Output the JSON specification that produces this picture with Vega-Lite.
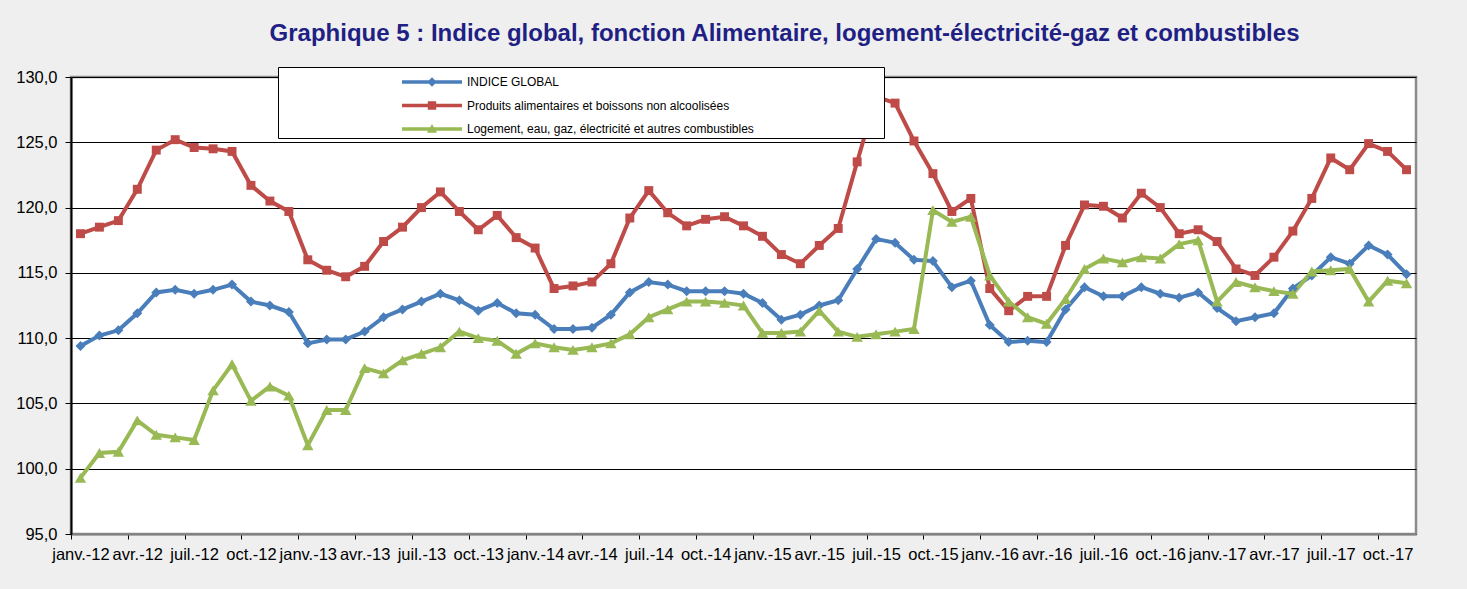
{
  "$schema": "https://vega.github.io/schema/vega-lite/v6.json",
  "width": 1345,
  "height": 457,
  "autosize": "none",
  "padding": {"left": 71, "top": 77, "right": 51, "bottom": 55},
  "title": {
    "text": "Graphique 5 : Indice global, fonction Alimentaire, logement-électricité-gaz et combustibles",
    "font": "Liberation Sans", "fontSize": 24, "fontWeight": "bold", "color": "#1f1f84",
    "anchor": "middle", "frame": "group", "offset": 2, "baseline": "alphabetic", "dx": 41
  },
  "data": {"values": [
    {"m":"janv.-12","s":"G","v":109.4},{"m":"févr.-12","s":"G","v":110.2},{"m":"mars-12","s":"G","v":110.6},{"m":"avr.-12","s":"G","v":111.9},{"m":"mai-12","s":"G","v":113.5},{"m":"juin-12","s":"G","v":113.7},{"m":"juil.-12","s":"G","v":113.4},{"m":"août-12","s":"G","v":113.7},{"m":"sept.-12","s":"G","v":114.1},{"m":"oct.-12","s":"G","v":112.8},{"m":"nov.-12","s":"G","v":112.5},{"m":"déc.-12","s":"G","v":112.0},
    {"m":"janv.-13","s":"G","v":109.6},{"m":"févr.-13","s":"G","v":109.9},{"m":"mars-13","s":"G","v":109.9},{"m":"avr.-13","s":"G","v":110.5},{"m":"mai-13","s":"G","v":111.6},{"m":"juin-13","s":"G","v":112.2},{"m":"juil.-13","s":"G","v":112.8},{"m":"août-13","s":"G","v":113.4},{"m":"sept.-13","s":"G","v":112.9},{"m":"oct.-13","s":"G","v":112.1},{"m":"nov.-13","s":"G","v":112.7},{"m":"déc.-13","s":"G","v":111.9},
    {"m":"janv.-14","s":"G","v":111.8},{"m":"févr.-14","s":"G","v":110.7},{"m":"mars-14","s":"G","v":110.7},{"m":"avr.-14","s":"G","v":110.8},{"m":"mai-14","s":"G","v":111.8},{"m":"juin-14","s":"G","v":113.5},{"m":"juil.-14","s":"G","v":114.3},{"m":"août-14","s":"G","v":114.1},{"m":"sept.-14","s":"G","v":113.6},{"m":"oct.-14","s":"G","v":113.6},{"m":"nov.-14","s":"G","v":113.6},{"m":"déc.-14","s":"G","v":113.4},
    {"m":"janv.-15","s":"G","v":112.7},{"m":"févr.-15","s":"G","v":111.4},{"m":"mars-15","s":"G","v":111.8},{"m":"avr.-15","s":"G","v":112.5},{"m":"mai-15","s":"G","v":112.9},{"m":"juin-15","s":"G","v":115.3},{"m":"juil.-15","s":"G","v":117.6},{"m":"août-15","s":"G","v":117.3},{"m":"sept.-15","s":"G","v":116.0},{"m":"oct.-15","s":"G","v":115.9},{"m":"nov.-15","s":"G","v":113.9},{"m":"déc.-15","s":"G","v":114.4},
    {"m":"janv.-16","s":"G","v":111.0},{"m":"févr.-16","s":"G","v":109.7},{"m":"mars-16","s":"G","v":109.8},{"m":"avr.-16","s":"G","v":109.7},{"m":"mai-16","s":"G","v":112.2},{"m":"juin-16","s":"G","v":113.9},{"m":"juil.-16","s":"G","v":113.2},{"m":"août-16","s":"G","v":113.2},{"m":"sept.-16","s":"G","v":113.9},{"m":"oct.-16","s":"G","v":113.4},{"m":"nov.-16","s":"G","v":113.1},{"m":"déc.-16","s":"G","v":113.5},
    {"m":"janv.-17","s":"G","v":112.3},{"m":"févr.-17","s":"G","v":111.3},{"m":"mars-17","s":"G","v":111.6},{"m":"avr.-17","s":"G","v":111.9},{"m":"mai-17","s":"G","v":113.8},{"m":"juin-17","s":"G","v":114.8},{"m":"juil.-17","s":"G","v":116.2},{"m":"août-17","s":"G","v":115.7},{"m":"sept.-17","s":"G","v":117.1},{"m":"oct.-17","s":"G","v":116.4},{"m":"nov.-17","s":"G","v":114.9},
    {"m":"janv.-12","s":"A","v":118.0},{"m":"févr.-12","s":"A","v":118.5},{"m":"mars-12","s":"A","v":119.0},{"m":"avr.-12","s":"A","v":121.4},{"m":"mai-12","s":"A","v":124.4},{"m":"juin-12","s":"A","v":125.2},{"m":"juil.-12","s":"A","v":124.6},{"m":"août-12","s":"A","v":124.5},{"m":"sept.-12","s":"A","v":124.3},{"m":"oct.-12","s":"A","v":121.7},{"m":"nov.-12","s":"A","v":120.5},{"m":"déc.-12","s":"A","v":119.7},
    {"m":"janv.-13","s":"A","v":116.0},{"m":"févr.-13","s":"A","v":115.2},{"m":"mars-13","s":"A","v":114.7},{"m":"avr.-13","s":"A","v":115.5},{"m":"mai-13","s":"A","v":117.4},{"m":"juin-13","s":"A","v":118.5},{"m":"juil.-13","s":"A","v":120.0},{"m":"août-13","s":"A","v":121.2},{"m":"sept.-13","s":"A","v":119.7},{"m":"oct.-13","s":"A","v":118.3},{"m":"nov.-13","s":"A","v":119.4},{"m":"déc.-13","s":"A","v":117.7},
    {"m":"janv.-14","s":"A","v":116.9},{"m":"févr.-14","s":"A","v":113.8},{"m":"mars-14","s":"A","v":114.0},{"m":"avr.-14","s":"A","v":114.3},{"m":"mai-14","s":"A","v":115.7},{"m":"juin-14","s":"A","v":119.2},{"m":"juil.-14","s":"A","v":121.3},{"m":"août-14","s":"A","v":119.6},{"m":"sept.-14","s":"A","v":118.6},{"m":"oct.-14","s":"A","v":119.1},{"m":"nov.-14","s":"A","v":119.3},{"m":"déc.-14","s":"A","v":118.6},
    {"m":"janv.-15","s":"A","v":117.8},{"m":"févr.-15","s":"A","v":116.4},{"m":"mars-15","s":"A","v":115.7},{"m":"avr.-15","s":"A","v":117.1},{"m":"mai-15","s":"A","v":118.4},{"m":"juin-15","s":"A","v":123.5},{"m":"juil.-15","s":"A","v":128.5},{"m":"août-15","s":"A","v":128.0},{"m":"sept.-15","s":"A","v":125.1},{"m":"oct.-15","s":"A","v":122.6},{"m":"nov.-15","s":"A","v":119.7},{"m":"déc.-15","s":"A","v":120.7},
    {"m":"janv.-16","s":"A","v":113.8},{"m":"févr.-16","s":"A","v":112.1},{"m":"mars-16","s":"A","v":113.2},{"m":"avr.-16","s":"A","v":113.2},{"m":"mai-16","s":"A","v":117.1},{"m":"juin-16","s":"A","v":120.2},{"m":"juil.-16","s":"A","v":120.1},{"m":"août-16","s":"A","v":119.2},{"m":"sept.-16","s":"A","v":121.1},{"m":"oct.-16","s":"A","v":120.0},{"m":"nov.-16","s":"A","v":118.0},{"m":"déc.-16","s":"A","v":118.3},
    {"m":"janv.-17","s":"A","v":117.4},{"m":"févr.-17","s":"A","v":115.3},{"m":"mars-17","s":"A","v":114.8},{"m":"avr.-17","s":"A","v":116.2},{"m":"mai-17","s":"A","v":118.2},{"m":"juin-17","s":"A","v":120.7},{"m":"juil.-17","s":"A","v":123.8},{"m":"août-17","s":"A","v":122.9},{"m":"sept.-17","s":"A","v":124.9},{"m":"oct.-17","s":"A","v":124.3},{"m":"nov.-17","s":"A","v":122.9},
    {"m":"janv.-12","s":"L","v":99.3},{"m":"févr.-12","s":"L","v":101.2},{"m":"mars-12","s":"L","v":101.3},{"m":"avr.-12","s":"L","v":103.7},{"m":"mai-12","s":"L","v":102.6},{"m":"juin-12","s":"L","v":102.4},{"m":"juil.-12","s":"L","v":102.2},{"m":"août-12","s":"L","v":106.0},{"m":"sept.-12","s":"L","v":108.0},{"m":"oct.-12","s":"L","v":105.2},{"m":"nov.-12","s":"L","v":106.3},{"m":"déc.-12","s":"L","v":105.6},
    {"m":"janv.-13","s":"L","v":101.8},{"m":"févr.-13","s":"L","v":104.5},{"m":"mars-13","s":"L","v":104.5},{"m":"avr.-13","s":"L","v":107.7},{"m":"mai-13","s":"L","v":107.3},{"m":"juin-13","s":"L","v":108.3},{"m":"juil.-13","s":"L","v":108.8},{"m":"août-13","s":"L","v":109.3},{"m":"sept.-13","s":"L","v":110.5},{"m":"oct.-13","s":"L","v":110.0},{"m":"nov.-13","s":"L","v":109.8},{"m":"déc.-13","s":"L","v":108.8},
    {"m":"janv.-14","s":"L","v":109.6},{"m":"févr.-14","s":"L","v":109.3},{"m":"mars-14","s":"L","v":109.1},{"m":"avr.-14","s":"L","v":109.3},{"m":"mai-14","s":"L","v":109.6},{"m":"juin-14","s":"L","v":110.3},{"m":"juil.-14","s":"L","v":111.6},{"m":"août-14","s":"L","v":112.2},{"m":"sept.-14","s":"L","v":112.8},{"m":"oct.-14","s":"L","v":112.8},{"m":"nov.-14","s":"L","v":112.7},{"m":"déc.-14","s":"L","v":112.5},
    {"m":"janv.-15","s":"L","v":110.4},{"m":"févr.-15","s":"L","v":110.4},{"m":"mars-15","s":"L","v":110.5},{"m":"avr.-15","s":"L","v":112.1},{"m":"mai-15","s":"L","v":110.5},{"m":"juin-15","s":"L","v":110.1},{"m":"juil.-15","s":"L","v":110.3},{"m":"août-15","s":"L","v":110.5},{"m":"sept.-15","s":"L","v":110.7},{"m":"oct.-15","s":"L","v":119.8},{"m":"nov.-15","s":"L","v":118.9},{"m":"déc.-15","s":"L","v":119.3},
    {"m":"janv.-16","s":"L","v":114.8},{"m":"févr.-16","s":"L","v":112.8},{"m":"mars-16","s":"L","v":111.6},{"m":"avr.-16","s":"L","v":111.1},{"m":"mai-16","s":"L","v":113.0},{"m":"juin-16","s":"L","v":115.3},{"m":"juil.-16","s":"L","v":116.1},{"m":"août-16","s":"L","v":115.8},{"m":"sept.-16","s":"L","v":116.2},{"m":"oct.-16","s":"L","v":116.1},{"m":"nov.-16","s":"L","v":117.2},{"m":"déc.-16","s":"L","v":117.5},
    {"m":"janv.-17","s":"L","v":112.8},{"m":"févr.-17","s":"L","v":114.3},{"m":"mars-17","s":"L","v":113.9},{"m":"avr.-17","s":"L","v":113.6},{"m":"mai-17","s":"L","v":113.4},{"m":"juin-17","s":"L","v":115.1},{"m":"juil.-17","s":"L","v":115.2},{"m":"août-17","s":"L","v":115.3},{"m":"sept.-17","s":"L","v":112.8},{"m":"oct.-17","s":"L","v":114.4},{"m":"nov.-17","s":"L","v":114.2}
  ]},
  "encoding": {
    "x": {
      "field": "m", "type": "ordinal", "sort": null,
      "scale": {"type": "point", "padding": 0.5},
      "axis": {
        "title": null,
        "values": ["janv.-12","avr.-12","juil.-12","oct.-12","janv.-13","avr.-13","juil.-13","oct.-13","janv.-14","avr.-14","juil.-14","oct.-14","janv.-15","avr.-15","juil.-15","oct.-15","janv.-16","avr.-16","juil.-16","oct.-16","janv.-17","avr.-17","juil.-17","oct.-17"],
        "labelAngle": 0, "tickOffset": -9.47, "labelOffset": 9.47,
        "labelOverlap": false, "labelBound": false,
        "domainColor": "#808080", "domainWidth": 2,
        "tickColor": "#000000", "tickSize": 5, "tickWidth": 1,
        "labelPadding": 7, "grid": false
      }
    },
    "y": {
      "field": "v", "type": "quantitative",
      "scale": {"domain": [95, 130], "nice": false, "zero": false},
      "axis": {
        "title": null,
        "values": [95, 100, 105, 110, 115, 120, 125, 130],
        "labelExpr": "replace(format(datum.value, '.1f'), '.', ',')",
        "domainColor": "#000000", "domainWidth": 2,
        "tickColor": "#000000", "tickSize": 6, "tickWidth": 1,
        "labelPadding": 8,
        "grid": true, "gridColor": "#000000", "gridWidth": 1
      }
    },
    "color": {
      "field": "s", "type": "nominal",
      "scale": {"domain": ["G", "A", "L"], "range": ["#4A7EBB", "#BE4B48", "#98B954"]},
      "legend": {
        "orient": "none", "legendX": 207, "legendY": -10,
        "title": null, "direction": "vertical",
        "labelExpr": "datum.value == 'G' ? 'INDICE  GLOBAL' : datum.value == 'A' ? 'Produits alimentaires et boissons non alcoolisées' : 'Logement, eau, gaz, électricité et autres combustibles\u00a0\u00a0\u00a0\u00a0\u00a0\u00a0\u00a0\u00a0\u00a0\u00a0\u00a0\u00a0\u00a0\u00a0\u00a0\u00a0\u00a0\u00a0\u00a0\u00a0\u00a0\u00a0\u00a0\u00a0\u00a0\u00a0\u00a0\u00a0\u00a0\u00a0\u00a0\u00a0\u00a0\u00a0\u00a0\u00a0\u00a0\u00a0\u200b'",
        "labelFont": "Liberation Sans", "labelFontSize": 12, "labelColor": "#000000", "labelLimit": 2000,
        "symbolSize": 576, "symbolOffset": 139, "labelOffset": 23, "symbolOpacity": 1, "symbolStrokeWidth": 0,
        "padding": 3, "rowPadding": 5.5,
        "strokeColor": "#000000", "fillColor": "#ffffff"
      }
    }
  },
  "layer": [
    {
      "mark": {"type": "line", "strokeWidth": 4}
    },
    {
      "transform": [{"filter": "datum.s == 'G'"}],
      "mark": {"type": "point", "filled": true, "opacity": 1, "size": 100, "shape": "diamond"}
    },
    {
      "transform": [{"filter": "datum.s == 'A'"}],
      "mark": {"type": "point", "filled": true, "opacity": 1, "size": 80, "shape": "square"}
    },
    {
      "transform": [{"filter": "datum.s == 'L'"}],
      "mark": {"type": "point", "filled": true, "opacity": 1, "size": 130, "shape": "triangle-up"}
    },
    {
      "transform": [{"filter": "datum.v < 0"}],
      "mark": {"type": "point", "filled": true, "opacity": 1},
      "encoding": {
        "shape": {
          "field": "s", "type": "nominal",
          "scale": {"domain": ["G", "A", "L"], "range": [
            "M-2.5,-0.15H2.5V0.15H-2.5Z M0,-0.4L0.4,0L0,0.4L-0.4,0Z",
            "M-2.5,-0.15H2.5V0.15H-2.5Z M-0.35,-0.35H0.35V0.35H-0.35Z",
            "M-2.5,-0.15H2.5V0.15H-2.5Z M0,-0.42L0.42,0.32L-0.42,0.32Z"
          ]}
        }
      }
    }
  ],
  "config": {
    "background": "#efefef",
    "font": "Liberation Sans",
    "view": {"fill": "#ffffff", "stroke": "#8c8c8c", "strokeWidth": 2.5},
    "axis": {"labelFont": "Liberation Sans", "labelFontSize": 16.5, "labelColor": "#000000"}
  }
}
